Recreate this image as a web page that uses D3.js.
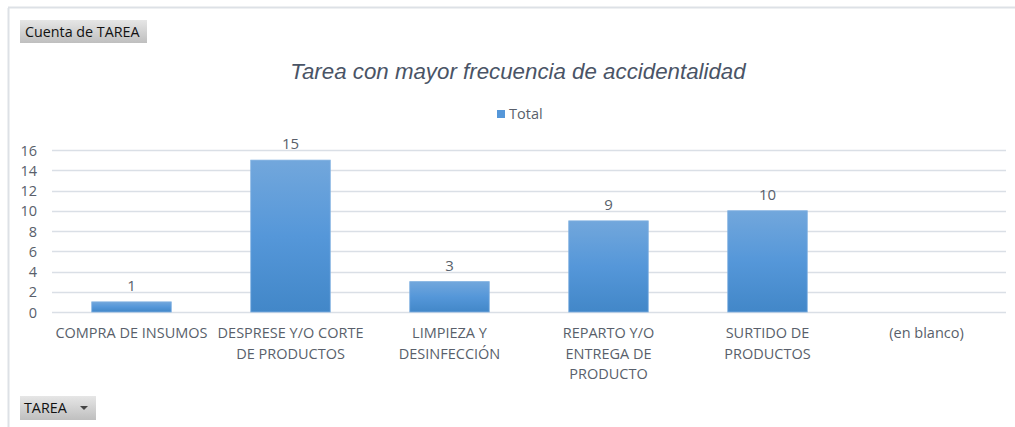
<!DOCTYPE html>
<html><head><meta charset="utf-8">
<script src="https://cdn.jsdelivr.net/npm/d3@7"></script>
<style>
html,body{margin:0;padding:0;background:#fff;}
svg{display:block;font-family:"Open Sans","Noto Sans",sans-serif;}
</style></head>
<body>
<svg id="c" width="1015" height="427"></svg>
<script>
const categories = [["COMPRA DE INSUMOS"],["DESPRESE Y/O CORTE","DE PRODUCTOS"],["LIMPIEZA Y","DESINFECCIÓN"],["REPARTO Y/O","ENTREGA DE","PRODUCTO"],["SURTIDO DE","PRODUCTOS"],["(en blanco)"]];
const values = [1, 15, 3, 9, 10, null];
const yTicks = [0, 2, 4, 6, 8, 10, 12, 14, 16];
const title = "Tarea con mayor frecuencia de accidentalidad";
const seriesName = "Total";

const svg = d3.select("#c");
const textCol = "#595f6b";

// outer frame
svg.append("line").attr("x1",8.5).attr("x2",8.5).attr("y1",8).attr("y2",427).attr("stroke","#dde1e6").attr("stroke-width",2);
svg.append("line").attr("x1",8).attr("x2",1015).attr("y1",7.5).attr("y2",7.5).attr("stroke","#dde1e6").attr("stroke-width",2);

const defs = svg.append("defs");
const g1 = defs.append("linearGradient").attr("id","bar").attr("x1",0).attr("x2",0).attr("y1",0).attr("y2",1);
g1.append("stop").attr("offset","0%").attr("stop-color","#72a7dc");
g1.append("stop").attr("offset","50%").attr("stop-color","#5597d9");
g1.append("stop").attr("offset","100%").attr("stop-color","#4287c8");
const g2 = defs.append("linearGradient").attr("id","btn").attr("x1",0).attr("x2",0).attr("y1",0).attr("y2",1);
g2.append("stop").attr("offset","0%").attr("stop-color","#e6e6e6");
g2.append("stop").attr("offset","100%").attr("stop-color","#bfbfbf");

const x = d3.scaleBand().domain(d3.range(categories.length)).range([52, 1006]).paddingInner(0.5).paddingOuter(0.25);
const y = d3.scaleLinear().domain([0, 16]).range([312, 150]);

// gridlines
svg.append("g").selectAll("line").data(yTicks).join("line")
  .attr("x1",52).attr("x2",1006)
  .attr("y1",d=>Math.round(y(d))+0.5).attr("y2",d=>Math.round(y(d))+0.5)
  .attr("stroke","#dadfe6").attr("stroke-width",1.5);

// y axis labels
const yAxis = d3.axisLeft(y).tickValues(yTicks).tickSize(0).tickPadding(0);
const ya = svg.append("g").attr("transform","translate(37,0)").call(yAxis);
ya.select(".domain").remove();
ya.selectAll("text").attr("fill",textCol).attr("font-size",14.5).attr("font-family","Open Sans, sans-serif").attr("text-anchor","end").attr("x",0).attr("dy","0.35em");

// bars
const data = values.map((v,i)=>({i,v})).filter(d=>d.v!=null);
svg.append("g").selectAll("rect").data(data).join("rect")
  .attr("x",d=>x(d.i)).attr("width",x.bandwidth())
  .attr("y",d=>y(d.v)).attr("height",d=>y(0)-y(d.v))
  .attr("fill","url(#bar)").attr("stroke","#7fb0e0").attr("stroke-width",0.8);

// data labels
svg.append("g").selectAll("text").data(data).join("text")
  .attr("x",d=>x(d.i)+x.bandwidth()/2).attr("y",d=>y(d.v)-11)
  .attr("text-anchor","middle").attr("fill",textCol).attr("font-size",15).text(d=>d.v);

// category labels
const cl = svg.append("g").selectAll("text").data(categories).join("text")
  .attr("x",(d,i)=>x(i)+x.bandwidth()/2).attr("y",338)
  .attr("text-anchor","middle").attr("fill",textCol).attr("font-size",14.5);
cl.selectAll("tspan").data((d,i)=>d.map(t=>({t,i}))).join("tspan")
  .attr("x",d=>x(d.i)+x.bandwidth()/2).attr("dy",(d,j)=>j===0?0:20.5).text(d=>d.t);

// title
svg.append("text").attr("x",518).attr("y",79).attr("text-anchor","middle")
  .attr("font-family","Liberation Sans, Arial, sans-serif")
  .attr("font-style","italic").attr("font-size",22.3).attr("fill","#4a5466").text(title);

// legend
svg.append("rect").attr("x",497).attr("y",110).attr("width",8).attr("height",8).attr("fill","#5597d9");
svg.append("text").attr("x",509).attr("y",119).attr("fill",textCol).attr("font-size",14.5).text(seriesName);

// pivot buttons
const b1 = svg.append("g");
b1.append("rect").attr("x",20).attr("y",20).attr("width",127).attr("height",23).attr("fill","url(#btn)");
b1.append("text").attr("x",25).attr("y",37).attr("font-size",14.3).attr("fill","#111").text("Cuenta de TAREA");
const b2 = svg.append("g");
b2.append("rect").attr("x",20).attr("y",396).attr("width",76).attr("height",24).attr("fill","url(#btn)");
b2.append("text").attr("x",24).attr("y",413).attr("font-size",14.3).attr("fill","#111").text("TAREA");
b2.append("path").attr("d","M80,406 L88,406 L84,410 Z").attr("fill","#444");
</script>
</body></html>
